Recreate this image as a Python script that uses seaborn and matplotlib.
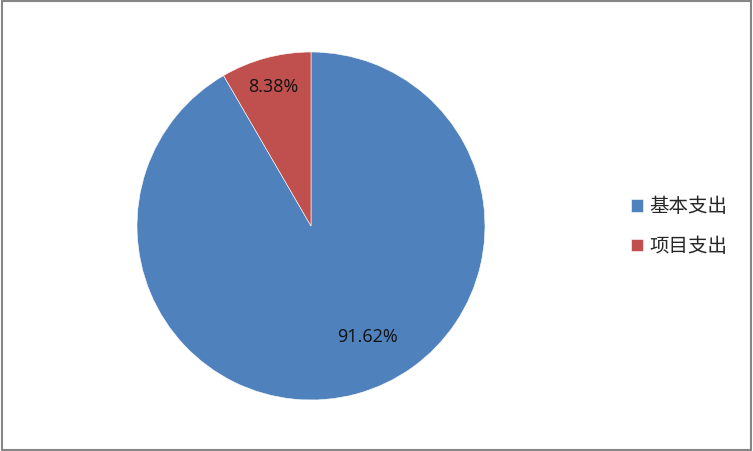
import matplotlib.pyplot as plt
import seaborn as sns
from matplotlib.patches import Rectangle

# data
categories = ['基本支出', '项目支出']
shares = [91.62, 8.38]
colors = ['#4F81BD', '#C0504D']

sns.set_theme(style='white')
plt.rcParams['font.family'] = ['Noto Sans CJK SC', 'DejaVu Sans']

fig = plt.figure(figsize=(7.53, 4.51), dpi=100)
W, H = 753, 451
cx, cy, r = 311, 226, 174
ax = fig.add_axes([(cx - r) / W, (H - cy - r) / H, 2 * r / W, 2 * r / H])

wedges, texts, autotexts = ax.pie(
    shares, colors=colors, startangle=90, counterclock=False,
    autopct='%.2f%%', radius=1.0,
    wedgeprops=dict(edgecolor='white', linewidth=0.4),
    textprops=dict(fontsize=13, color='#111111', family=['Open Sans', 'DejaVu Sans']),
)
# move labels to where the reference puts them
autotexts[0].set_position((0.322, -0.638))
autotexts[1].set_position((-0.218, 0.799))
ax.set_xlim(-1, 1)
ax.set_ylim(-1, 1)
ax.set_aspect('equal')
ax.axis('off')

fig.legend(wedges, categories, loc='center left',
           bbox_to_anchor=(631 / W, 1 - 226.5 / H), frameon=False,
           fontsize=14, handlelength=0.6, handleheight=0.6,
           handletextpad=0.35, labelspacing=0.95, borderpad=0, borderaxespad=0)

# outer border
fig.patches.append(Rectangle((0.002, 0.003), 0.995, 0.994, transform=fig.transFigure,
                             fill=False, edgecolor='#868686', linewidth=1.5))

fig.savefig('out.png', dpi=100)
